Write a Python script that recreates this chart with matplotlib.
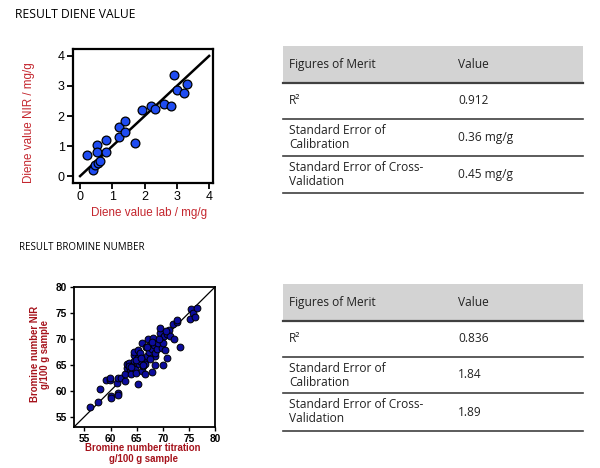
import matplotlib
matplotlib.use("Agg")
import matplotlib.pyplot as plt
from matplotlib.patches import Rectangle

W, H = 600, 468

# ---------------- data ----------------
diene_lab = [0.21, 0.52, 0.52, 0.41, 0.46, 0.57, 0.62, 0.80, 0.80, 1.20, 1.20, 1.40, 1.40,
             1.71, 1.91, 2.20, 2.32, 2.60, 2.81, 2.91, 3.01, 3.22, 3.32]
diene_nir = [0.70, 1.03, 0.81, 0.20, 0.37, 0.42, 0.51, 1.20, 0.81, 1.62, 1.29, 1.84, 1.48,
             1.09, 2.20, 2.33, 2.22, 2.39, 2.33, 3.37, 2.87, 2.76, 3.07]

bromine_tit = [56.1, 57.5, 57.9, 59.2, 59.8, 59.8, 60.0, 60.0, 61.2, 61.4, 61.4, 61.4, 62.0,
               62.8, 62.8, 63.1, 63.1, 63.5, 63.8, 63.9, 64.3, 64.4, 64.4, 64.5, 64.7, 64.9,
               65.1, 65.2, 65.2, 65.2, 65.4, 65.7, 65.7, 66.0, 66.0, 66.3, 66.5, 66.5, 66.6,
               66.8, 66.9, 67.1, 67.3, 67.5, 67.9, 67.9, 68.2, 68.4, 68.5, 68.5, 68.5, 68.9,
               69.0, 69.4, 69.5, 69.6, 69.8, 70.0, 70.1, 70.3, 70.5, 70.8, 70.9, 71.1, 71.3,
               71.9, 72.2, 72.7, 72.7, 73.3, 75.2, 75.4, 75.7, 76.2, 76.6,
               63.6, 64.0, 64.9, 65.8, 66.2, 67.0, 67.6, 68.0, 69.2, 70.6]
bromine_nir = [56.9, 57.8, 60.3, 62.1, 62.1, 62.5, 59.0, 58.5, 61.4, 62.4, 59.6, 59.2, 62.5,
               61.9, 63.3, 64.4, 65.1, 65.4, 64.1, 63.3, 64.9, 65.7, 66.8, 67.4, 64.1, 63.5,
               65.4, 66.4, 67.8, 61.2, 65.1, 65.7, 67.2, 69.2, 63.8, 64.7, 63.3, 66.0, 65.1,
               68.5, 66.7, 69.9, 67.4, 68.9, 63.6, 68.0, 70.2, 68.9, 66.7, 64.9, 67.3, 68.1,
               69.2, 71.2, 72.1, 69.9, 68.3, 64.9, 69.2, 70.5, 67.9, 71.0, 66.3, 71.8, 70.6,
               72.9, 70.0, 73.2, 73.6, 68.5, 73.8, 75.8, 75.0, 74.2, 76.0,
               64.8, 64.5, 66.0, 66.3, 65.0, 68.4, 66.2, 69.4, 70.0, 71.6]

diene_ticks = [0, 1, 2, 3, 4]
bromine_ticks = [55, 60, 65, 70, 75, 80]

table_header = ["Figures of Merit", "Value"]
table_rows = ["R²", "Standard Error of\nCalibration", "Standard Error of Cross-\nValidation"]
diene_values = ["0.912", "0.36 mg/g", "0.45 mg/g"]
bromine_values = ["0.836", "1.84", "1.89"]

# ---------------- figure ----------------
fig = plt.figure(figsize=(W / 100, H / 100), dpi=100)


def rect(l, t, r, b):
    return [l / W, 1 - b / H, (r - l) / W, (b - t) / H]


# overlay for text & tables (pixel coordinates)
ov = fig.add_axes([0, 0, 1, 1], zorder=-1)
ov.set_xlim(0, W)
ov.set_ylim(H, 0)
ov.axis("off")

title_font = "Open Sans"
ov.text(15, 15, "RESULT DIENE VALUE", fontsize=8.7, family=title_font, va="center", ha="left")
ov.text(19, 247, "RESULT BROMINE NUMBER", fontsize=7.0, family=title_font, va="center", ha="left")

# ---------------- diene scatter ----------------
red1 = "#c4262e"
ax1 = fig.add_axes(rect(73, 49, 213, 183))
lim = [0, 4]
ax1.plot(lim, lim, color="black", lw=1.8, zorder=2)
ax1.scatter(diene_lab, diene_nir, s=40, c="#1f4cf2", edgecolors="black", linewidths=0.9, zorder=3)
ax1.set_xlim(-0.22, 4.12)
ax1.set_ylim(-0.23, 4.23)
ax1.set_xticks(diene_ticks)
ax1.set_yticks(diene_ticks)
for sp in ax1.spines.values():
    sp.set_linewidth(1.6)
ax1.tick_params(direction="out", length=4, width=1.3, labelsize=9, pad=2)
for lab in ax1.get_xticklabels() + ax1.get_yticklabels():
    lab.set_family("Liberation Sans")
ax1.set_xlabel("Diene value lab / mg/g", color=red1, fontsize=8.4, family="Liberation Sans")
ax1.set_ylabel("Diene value NIR / mg/g", color=red1, fontsize=8.4, family="Liberation Sans")
ax1.xaxis.set_label_coords(0.54, -0.18)
ax1.yaxis.set_label_coords(-0.27, 0.45)

# ---------------- bromine scatter ----------------
red2 = "#a5121b"
ax2 = fig.add_axes(rect(74, 287, 215, 427))
blim = [53, 80]
ax2.plot(blim, blim, color="black", lw=0.9, zorder=2)
ax2.scatter(bromine_tit, bromine_nir, s=24, c="#0c0c9c", edgecolors="black", linewidths=0.7, zorder=3)
ax2.set_xlim(53, 80)
ax2.set_ylim(53, 80)
ax2.set_xticks(bromine_ticks)
ax2.set_yticks(bromine_ticks)
for sp in ax2.spines.values():
    sp.set_linewidth(1.3)
ax2.tick_params(direction="out", length=3, width=1.0, labelsize=7.3, pad=2)
for lab in ax2.get_xticklabels() + ax2.get_yticklabels():
    lab.set_family("Liberation Sans")
    lab.set_fontweight("bold")
ax2.set_xlabel("Bromine number titration\ng/100 g sample", color=red2, fontsize=6.9, fontweight="bold",
               family="Liberation Sans", linespacing=1.05)
ax2.set_ylabel("Bromine number NIR\ng/100 g sample", color=red2, fontsize=6.9, fontweight="bold",
               family="Liberation Sans", linespacing=1.05)
ax2.xaxis.set_label_coords(0.49, -0.115)
ax2.yaxis.set_label_coords(-0.17, 0.52)


# ---------------- tables ----------------
def draw_table(top, header_bottom, row_lines, values):
    left, right = 283, 583
    ov.add_patch(Rectangle((left, top), right - left, header_bottom - top, facecolor="#d3d3d3",
                           edgecolor="none"))
    ov.plot([left, right], [header_bottom, header_bottom], color="#404040", lw=1.6)
    for y in row_lines:
        ov.plot([left, right], [y, y], color="#404040", lw=1.2)
    tf = dict(family="Open Sans", fontsize=8.6, va="center", ha="left", color="#222222")
    ov.text(289, (top + header_bottom) / 2, table_header[0], **tf)
    ov.text(458, (top + header_bottom) / 2, table_header[1], **tf)
    prev = header_bottom
    for name, val, y in zip(table_rows, values, row_lines):
        cy = (prev + y) / 2
        ov.text(289, cy, name, linespacing=1.1, **tf)
        ov.text(458, cy, val, **tf)
        prev = y


draw_table(46, 83, [119, 156, 193], diene_values)
draw_table(284, 321, [357, 393, 431], bromine_values)

fig.savefig("out.png", dpi=100)
